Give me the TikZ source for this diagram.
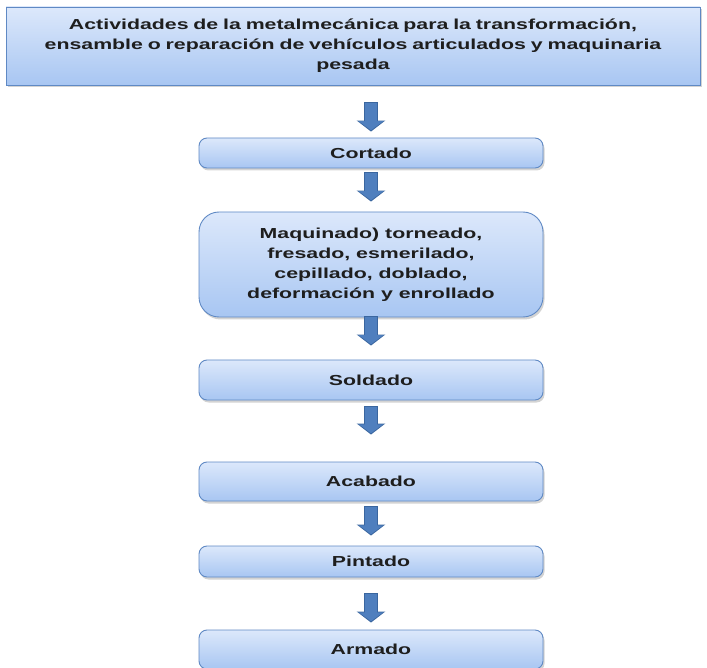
\documentclass[tikz,border=0pt]{standalone}
\usepackage{fontspec}
\setmainfont{Liberation Sans}[FakeStretch=1.47]
\usetikzlibrary{shadows,arrows.meta,calc}
\definecolor{boxtop}{HTML}{DCE8FB}
\definecolor{boxbot}{HTML}{A8C6F2}
\definecolor{boxline}{HTML}{5F89C4}
\definecolor{arrfill}{HTML}{4F7FBE}
\definecolor{arrline}{HTML}{3A669F}
\definecolor{txt}{HTML}{1E1E1E}
\tikzset{
  x=1pt,y=1pt,
  boxstyle/.style={draw=boxline, line width=0.9pt, top color=boxtop, bottom color=boxbot,
    drop shadow={opacity=0.35, shadow xshift=1.5pt, shadow yshift=-2.5pt},
    font=\bfseries\fontsize{14.5}{20}\selectfont, text=txt, align=center, inner sep=0pt},
  stepbox/.style={boxstyle, rounded corners=8pt, minimum width=344pt, minimum height=30pt},
  barrowout/.style={draw=arrline, line width=14pt, -{Triangle[width=28pt,length=11pt]}, arrline},
  barrowin/.style={line width=11.5pt, -{Triangle[width=24pt,length=9pt]}, arrfill},
}
\begin{document}
\begin{tikzpicture}
\useasboundingbox (0,0) rectangle (707,-668);
\node[boxstyle, minimum width=694pt, minimum height=78pt, text width=680pt] (top) at (353,-46)
  {Actividades de la metalmecánica para la transformación,\\ ensamble o reparación de vehículos articulados y maquinaria\\ pesada};
\node[stepbox] (cort) at (371,-153) {Cortado};
\node[stepbox, rounded corners=20pt, minimum height=105pt] (maq) at (371,-264.5)
  {Maquinado) torneado,\\ fresado, esmerilado,\\ cepillado, doblado,\\ deformación y enrollado};
\node[stepbox, minimum height=40pt] (sold) at (371,-380) {Soldado};
\node[stepbox, minimum height=39pt] (acab) at (371,-481.5) {Acabado};
\node[stepbox, minimum height=31pt] (pint) at (371,-561.5) {Pintado};
\node[stepbox, minimum height=39pt] (arm) at (371,-649.5) {Armado};
% arrows
\foreach \a/\b/\s/\e in {top/cort/17/6, cort/maq/4/10, maq/sold/-1/14, sold/acab/6/27, acab/pint/5/10, pint/arm/16/7}{
  \draw[barrowout, shorten <=\s pt, shorten >=\e pt] (\a.south -| cort.north) -- (\b.north);
  \draw[barrowin, shorten <=\s pt+1pt, shorten >=\e pt+1.3pt] (\a.south -| cort.north) -- (\b.north);
}
\end{tikzpicture}
\end{document}
